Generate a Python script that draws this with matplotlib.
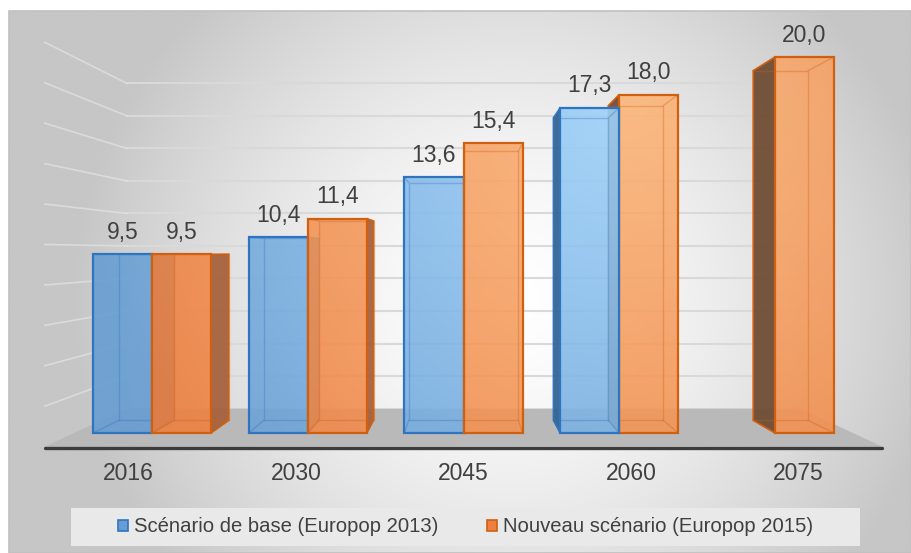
import numpy as np
import matplotlib.pyplot as plt
from matplotlib.patches import Polygon, Rectangle, Patch
from matplotlib.colors import to_rgb

# valeurs
years = ['2016', '2030', '2045', '2060', '2075']
europop_2013 = [9.5, 10.4, 13.6, 17.3, np.nan]
europop_2015 = [9.5, 11.4, 15.4, 18.0, 20.0]
series_labels = ['Scénario de base (Europop 2013)', 'Nouveau scénario (Europop 2015)']
grid_vals = [2, 4, 6, 8, 10, 12, 14, 16, 18, 20]

plt.rcParams['font.family'] = ['Liberation Sans', 'DejaVu Sans']
TXT = '#404040'

W, H = 911, 553
fig = plt.figure(figsize=(W / 100, H / 100), dpi=100)
ax = fig.add_axes([0, 0, 1, 1])
ax.axis('off')

# one year step = 155.75 px, one unit = 18.8 px on the front plane
X0, XS = 152, 155.75
Y0, YS = 433, 18.8
def px2x(p):
    return (p - X0) / XS
def py2y(p):
    return (Y0 - p) / YS

# fake 3d : one point perspective
VP = (2.0, 9.63)
S = 0.93
def proj(x, y, z):
    k = S ** z
    return VP[0] + (x - VP[0]) * k, VP[1] + (y - VP[1]) * k

# background gradient
gx, gy = np.meshgrid(np.linspace(9, W, 300), np.linspace(11, H, 200))
d = np.clip(np.sqrt(((gx - 510) / 440) ** 2 + ((gy - 300) / 420) ** 2), 0, 1) ** 1.5
c0, c1 = np.array([1.0, 1.0, 1.0]), np.array(to_rgb('#c6c6c6'))
bg = c0 + (c1 - c0) * d[..., None]
ax.imshow(bg, extent=(px2x(9), px2x(W), py2y(H), py2y(11)), origin='upper',
          aspect='auto', zorder=0)
ax.add_patch(Rectangle((px2x(9), py2y(H)), px2x(W) - px2x(9), py2y(11) - py2y(H),
                       fill=False, edgecolor='#c0c0c0', lw=1.2, zorder=0.5))

# floor
xl, xr = -0.5, 4.5
floor = [proj(xl, 0, -1), proj(xr, 0, -1), proj(xr, 0, 2), proj(xl, 0, 2)]
ax.add_patch(Polygon(floor, closed=True, facecolor='#b9b9b9', edgecolor='none', zorder=1))
fl, fr = proj(xl, 0, -1), proj(xr, 0, -1)
ax.plot([fl[0], fr[0]], [fl[1] - 0.05, fr[1] - 0.05], color='#3c3c3c', lw=2.4,
        solid_capstyle='round', zorder=2)

# gridlines, back wall and left wall
for v in grid_vals:
    a, b, c = proj(xl, v, 2), proj(xr, v, 2), proj(xl, v, -1)
    ax.plot([a[0], b[0]], [a[1], b[1]], color='#d9d9d9', lw=1.5, zorder=1.5)
    ax.plot([a[0], c[0]], [a[1], c[1]], color='#e4e4e4', lw=1.2, alpha=0.7, zorder=1.5)

BW = 0.379
styles = [
    dict(off=-BW, dark='#669dd2', light='#a0d3fb', edge='#2f74c0',
         side=('#3f72a3', '#33628c')),
    dict(off=0.0, dark='#ed7f3f', light='#fcb67a', edge='#d0600f',
         side=('#a6603a', '#6e4a31')),
]

def face_img(x0, x1, h):
    xs = np.linspace(x0, x1, 20)
    ys = np.linspace(0, h, 80)
    mx, my = np.meshgrid(xs, ys)
    ppx, ppy = X0 + mx * XS, Y0 - my * YS
    return np.clip(1 - np.hypot(ppx - 630, ppy - 100) / 560, 0, 1)

bars = []
for vals, st in zip([europop_2013, europop_2015], styles):
    for i, v in enumerate(vals):
        if np.isnan(v):
            continue
        x0 = i + st['off']
        bars.append((x0, x0 + BW, v, st))
bars.sort(key=lambda b: -abs((b[0] + b[1]) / 2 - VP[0]))

z = 3
for x0, x1, h, st in bars:
    cen = (x0 + x1) / 2
    if cen < VP[0]:
        xe, scol = x1, st['side'][0]
    else:
        xe, scol = x0, st['side'][1]
    side = [(xe, 0), (xe, h), proj(xe, h, 1), proj(xe, 0, 1)]
    ax.add_patch(Polygon(side, closed=True, facecolor=scol, edgecolor=st['edge'],
                         lw=1.2, alpha=0.93, zorder=z))
    t = face_img(x0, x1, h)
    dk, lt = np.array(to_rgb(st['dark'])), np.array(to_rgb(st['light']))
    img = dk + (lt - dk) * t[..., None]
    ax.imshow(img, extent=(x0, x1, 0, h), origin='lower', aspect='auto',
              alpha=0.9, zorder=z + 0.1)
    # edges seen through the transparent front
    back = [proj(x0, 0, 1), proj(x1, 0, 1), proj(x1, h, 1), proj(x0, h, 1), proj(x0, 0, 1)]
    ax.plot([p[0] for p in back], [p[1] for p in back], color=st['edge'], lw=1.0,
            alpha=0.35, zorder=z + 0.2)
    for cx, cy in [(x0, 0), (x1, 0), (x1, h), (x0, h)]:
        bx, by = proj(cx, cy, 1)
        ax.plot([cx, bx], [cy, by], color=st['edge'], lw=1.0, alpha=0.35, zorder=z + 0.2)
    ax.add_patch(Rectangle((x0, 0), x1 - x0, h, fill=False, edgecolor=st['edge'],
                           lw=1.6, zorder=z + 0.3))
    ax.annotate(f'{h:.1f}'.replace('.', ','), xy=(cen, h), xytext=(0, 11),
                textcoords='offset points', ha='center', va='baseline',
                fontsize=16.5, color=TXT, zorder=20)
    z += 1

# category labels on the front edge of the floor
for i, yr in enumerate(years):
    lx, ly = proj(i, 0, -1)
    ax.annotate(yr, xy=(lx, ly), xytext=(0, -19), textcoords='offset points',
                ha='center', va='center', fontsize=16.5, color=TXT, zorder=20)

# legend
ax.add_patch(Rectangle((px2x(71), py2y(546)), px2x(860) - px2x(71), py2y(508) - py2y(546),
                       facecolor='#e9e9e9', edgecolor='none', zorder=5))
handles = [Patch(facecolor=styles[0]['dark'], edgecolor=styles[0]['edge'], lw=1.2),
           Patch(facecolor=styles[1]['dark'], edgecolor=styles[1]['edge'], lw=1.2)]
leg = ax.legend(handles, series_labels, ncol=2, loc='center',
                bbox_to_anchor=(465.5 / W, 1 - 527 / H), bbox_transform=fig.transFigure,
                frameon=False, fontsize=14.6, handlelength=0.5, handleheight=0.5,
                handletextpad=0.3, columnspacing=2.4, labelcolor=TXT)
leg.set_zorder(21)

ax.set_xlim(px2x(0), px2x(W))
ax.set_ylim(py2y(H), py2y(0))

fig.savefig('out.png', dpi=100)
